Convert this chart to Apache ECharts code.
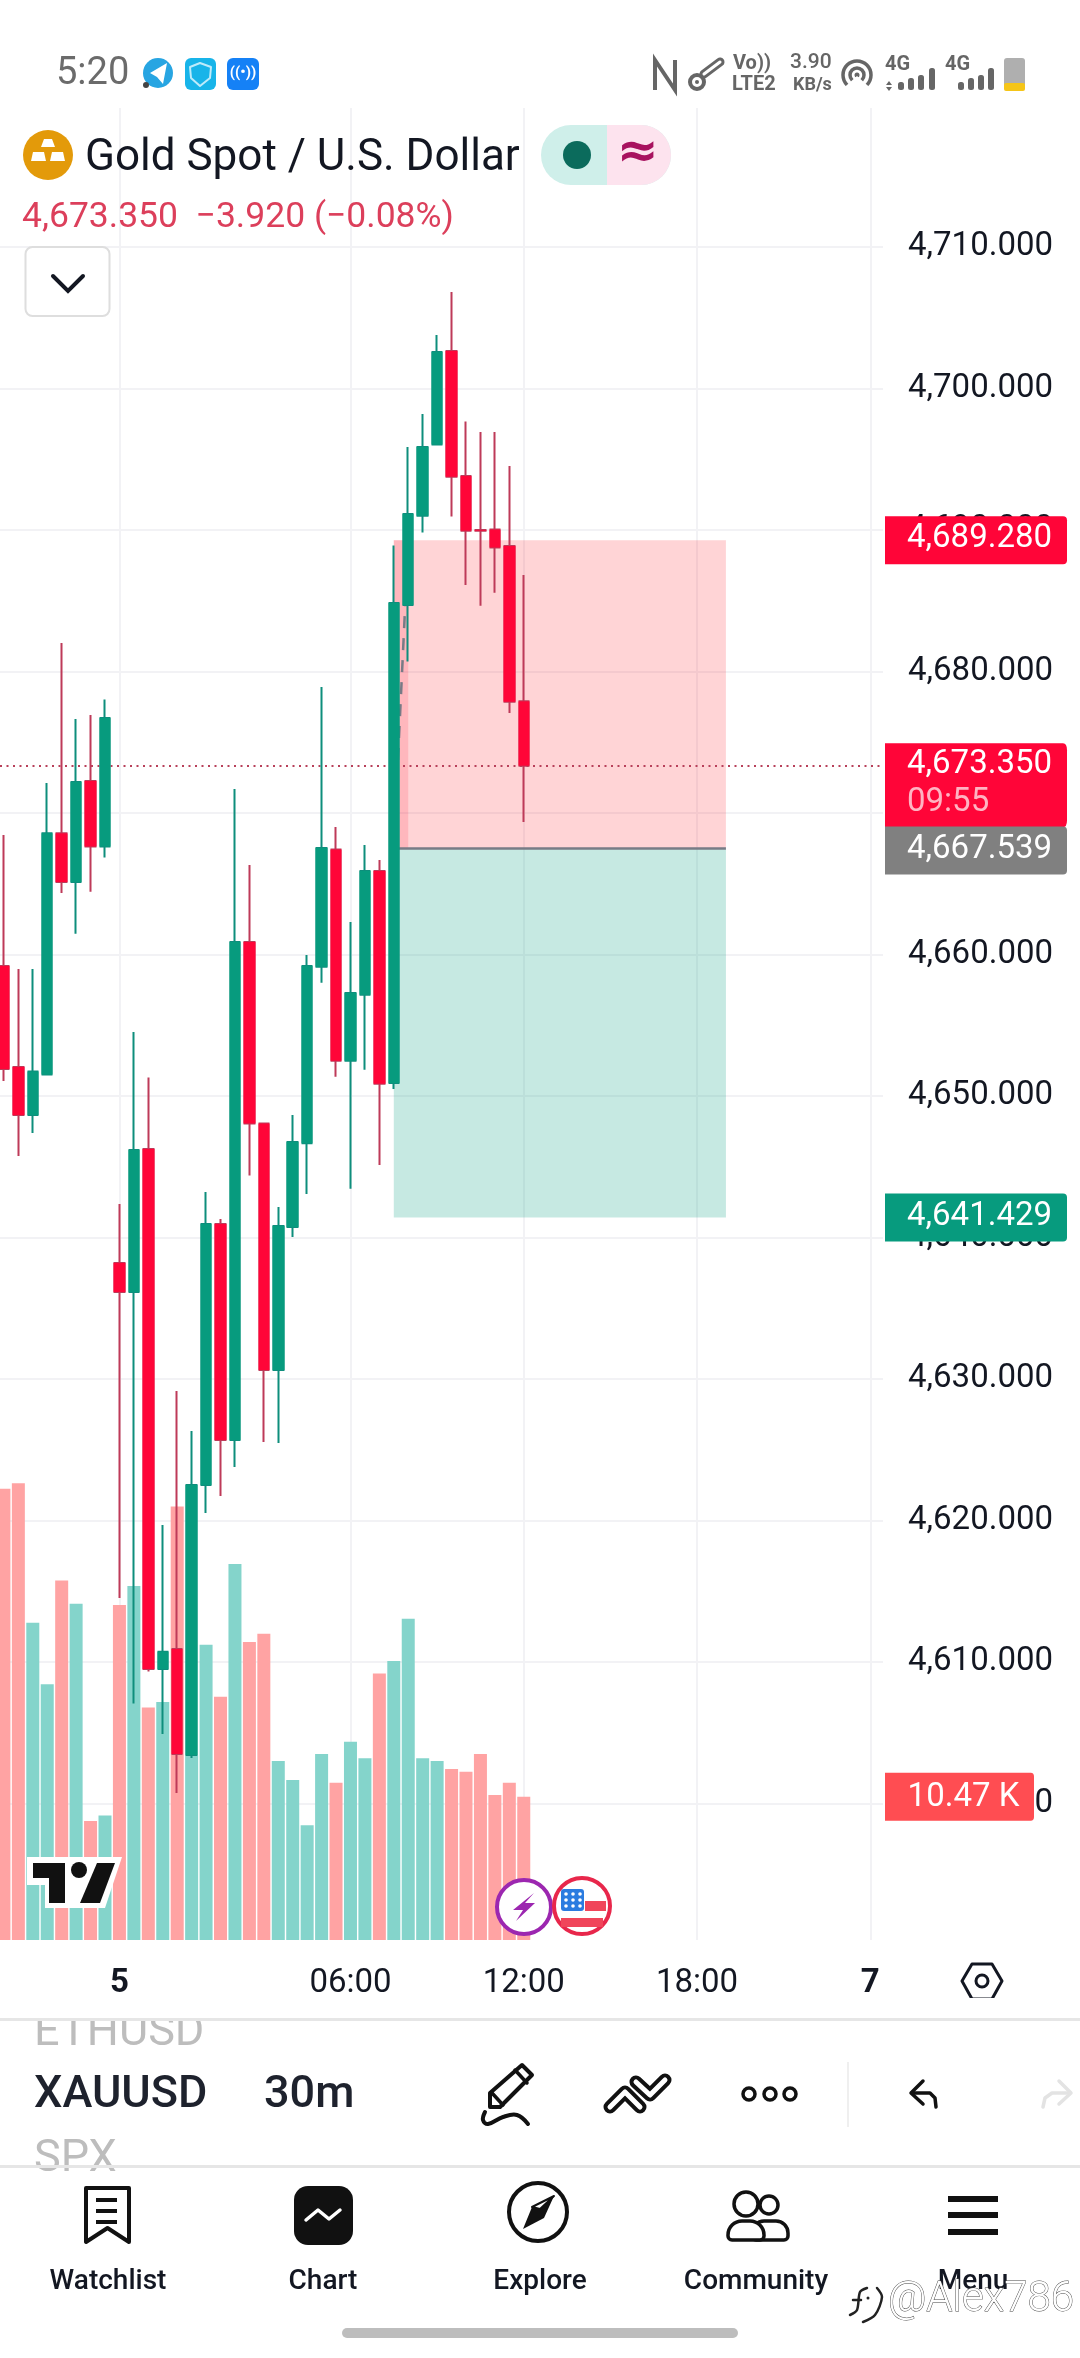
<!DOCTYPE html>
<html><head><meta charset="utf-8"><title>XAUUSD 30m</title>
<style>html,body{margin:0;padding:0;background:#fff}#c{width:1080px;height:2358px}</style>
<script src="https://cdn.jsdelivr.net/npm/echarts@6/dist/echarts.min.js"></script>
</head><body><div id="c"></div>
<script>
const open  = [4659.19,4652.06,4648.66,4651.52,4668.57,4665.13,4672.27,4667.64,4638.21,4636.16,4646.26,4609.51,4610.93,4603.44,4622.52,4640.96,4625.70,4660.89,4648.06,4630.64,4640.75,4646.66,4659.15,4667.43,4652.49,4657.17,4665.91,4650.93,4684.71,4691.02,4696.05,4702.66,4693.82,4690.01,4690.04,4688.88,4677.90];
const close = [4651.92,4648.66,4651.74,4668.57,4665.13,4672.20,4667.64,4676.72,4636.16,4646.19,4609.51,4610.74,4603.51,4622.52,4640.96,4625.70,4660.89,4648.06,4630.64,4640.82,4646.76,4659.19,4667.53,4652.49,4657.29,4665.91,4650.88,4684.85,4691.14,4695.87,4702.59,4693.77,4689.96,4689.96,4688.77,4677.87,4673.35];
const low   = [4651.07,4645.77,4647.39,4651.52,4664.35,4661.48,4664.45,4666.86,4614.53,4607.07,4609.34,4604.92,4600.75,4603.22,4620.54,4621.74,4623.79,4644.38,4625.55,4625.48,4640.04,4643.08,4658.01,4651.36,4643.46,4651.87,4645.13,4650.50,4680.71,4689.83,4696.05,4690.96,4686.12,4684.66,4685.58,4677.07,4669.37];
const high  = [4668.45,4658.98,4658.98,4672.13,4682.02,4676.65,4676.93,4678.03,4642.37,4654.53,4651.31,4619.69,4629.16,4626.33,4643.22,4641.31,4671.70,4666.33,4648.06,4642.16,4648.66,4659.97,4678.91,4669.02,4662.30,4667.75,4666.69,4688.91,4695.87,4698.20,4703.79,4706.83,4697.67,4696.93,4696.93,4694.53,4686.83];
const volumeK = [33.0,33.4,23.2,18.7,26.3,24.6,8.7,9.1,24.5,25.9,17.0,17.4,31.7,13.5,21.6,17.8,27.5,21.8,22.4,13.1,11.7,8.4,13.6,11.5,14.5,13.3,19.5,20.4,23.5,13.3,13.1,12.5,12.3,13.6,10.6,11.5,10.47];
const slotCount = 61;
const categories = Array.from({length:slotCount},(_,i)=>String(i));
const tickLabels = {8:'5',24:'06:00',36:'12:00',48:'18:00',60:'7'};
const boldTicks = ['5','7'];
const priceMin = 4590, priceMax = 4720, priceStep = 10;
const volMax = 134;
const targetPrice = 4689.28, entryPrice = 4667.539, stopPrice = 4641.429, lastPrice = 4673.35;
const entryIndex = 27, pathEndIndex = 28, zoneEndIndex = 50;
const countdown = '09:55';
const lastVolumeLabel = '10.47 K';

const GREEN='#079B7E', RED='#FF0538', WICK_G='#0E8E7C', WICK_R='#BE3A59';
const fmt = v => v.toLocaleString('en-US',{minimumFractionDigits:3,maximumFractionDigits:3});
const up = i => close[i] >= open[i];
const ink='#131722';

// --- UI helpers ---
const Z=100;
const T=(text,x,y,size,fill,o={})=>({type:'text',z:o.z||Z,x,y,style:{text,fill,font:`${o.weight||400} ${size}px ${o.family||'Roboto'}`,textAlign:o.align||'left',textVerticalAlign:'middle',stroke:o.stroke,lineWidth:o.lw||0}});
const R=(x,y,w,h,fill,o={})=>({type:'rect',z:o.z||Z,shape:{x,y,width:w,height:h,r:o.r||0},style:{fill,stroke:o.stroke,lineWidth:o.lw||0}});
const C=(cx,cy,r,fill,o={})=>({type:'circle',z:o.z||Z,shape:{cx,cy,r},style:{fill,stroke:o.stroke,lineWidth:o.lw||0}});
const PG=(points,fill,o={})=>({type:'polygon',z:o.z||Z,shape:{points},style:{fill,stroke:o.stroke,lineWidth:o.lw||0,lineJoin:'round'}});
const PL=(points,stroke,lw,o={})=>({type:'polyline',z:o.z||Z,shape:{points,smooth:o.smooth||0},style:{fill:'none',stroke,lineWidth:lw,lineJoin:o.join||'round',lineCap:o.cap||'round'}});
const bars=(list)=>list.map(b=>R(b[0]-3,90-b[1],6,b[1],'#666',{r:2.5}));
const chevL=[[610,2107],[625,2092],[640,2107]], chevR=[[636,2082],[650,2095],[665,2080]];

const ui=[
 // status bar
 T('5:20',56,74,38,'#6b6b6b'),
 C(158,73,15,'#27A5E2'),PG([[150,73],[167,63],[163,84],[157,77]],'#fff'),C(146,85,3,'#444'),
 R(185,58,31,32,'#18B4E9',{r:6}),PG([[200,63],[211,67],[210,78],[200,86],[191,78],[190,67]],'none',{stroke:'#BEEBFA',lw:2}),
 R(227,58,32,32,'#1581F6',{r:6}),T('((•))',243,73,15,'#fff',{align:'center',weight:700}),
 PL([[655,90],[655,60],[675,90],[675,60]],'#666',4,{join:'miter',cap:'butt'}),
 C(697,82,7,'none',{stroke:'#666',lw:4}),
 PL([[704,74],[720,62]],'#666',9,{join:'miter'}),PL([[704,74],[720,62]],'#fff',3),C(697,82,2,'#666'),
 T('Vo))',733,64,20,'#666',{weight:700}),T('LTE2',732,85,20,'#666',{weight:700}),
 T('3.90',790,63,21,'#666',{weight:500}),T('KB/s',793,85,18,'#666',{weight:700}),
 C(857,75,14,'none',{stroke:'#666',lw:3.5}),C(857,75,7,'none',{stroke:'#666',lw:3.5}),C(857,75,2.5,'#666'),PG([[857,76],[876,93],[838,93]],'#fff'),
 T('4G',885,65,20,'#666',{weight:700}),T('4G',945,65,20,'#666',{weight:700}),
 PG([[889,81],[892,85],[886,85]],'#666'),PG([[889,91],[892,87],[886,87]],'#666'),
 ...bars([[901,8],[911,12],[921,15],[932,22]]),
 ...bars([[961,8],[971,12],[981,15],[991,22]]),
 R(1004,58,21,32,'#AFAFAF',{r:3}),R(1004,83,21,8,'#F5C518',{r:2}),
 // header
 C(48,155,25,'#E39A0A'),PG([[44,139],[52,139],[55,147],[41,147]],'#fff'),PG([[33,152],[44,152],[46,161],[31,161]],'#fff'),PG([[52,152],[63,152],[65,161],[50,161]],'#fff'),
 T('Gold Spot / U.S. Dollar',85,159,44,'#131722'),
 R(541,125,130,60,'#CFEFEA',{r:30}),R(607,125,64,60,'#FDE3EE',{r:[0,30,30,0]}),
 C(577,155,14,'#0B6B5C'),T('≈',638,154,50,'#A8125F',{align:'center',weight:700,family:'DejaVu Sans'}),
 T('4,673.350  −3.920 (−0.08%)',22,218,35.5,'#DC3F5B'),
 R(25.5,247,84,69,'#fff',{r:7,stroke:'#DEDEDE',lw:2}),PL([[53,276],[68,291],[83,276]],'#131722',4,{join:'miter'}),
 // TradingView logo
 PG([[27,1857],[122,1857],[105,1908],[45,1908],[45,1885],[27,1885]],'#fff'),
 PG([[33,1863],[65,1863],[65,1903],[49,1903],[49,1878],[33,1878]],'#111'),
 C(79,1870,8,'#111'),
 PG([[97,1863],[115,1863],[100,1903],[80,1903]],'#111'),
 // event icons
 C(524,1907,27,'#fff',{stroke:'#9C27B0',lw:4}),PG([[534,1893],[513,1910],[523,1910],[516,1921],[535,1903],[525,1903]],'#9C27B0'),
 C(582,1906,28,'#fff',{stroke:'#E8274B',lw:4}),R(561,1889,23,22,'#2B7CE0',{r:3}),
 ...[566,573,580].flatMap(x=>[1894,1900,1906].map(y=>C(x,y,1.8,'#fff'))),
 R(585,1901,21,10,'#F0455A'),R(561,1918,42,9,'#F0455A'),
 // x axis settings icon
 PG([[962,1981],[972,1964],[992,1964],[1002,1981],[992,1999],[972,1999]],'none',{stroke:'#131722',lw:3}),C(982,1981,6,'none',{stroke:'#131722',lw:3}),
 // toolbar
 T('ETHUSD',34,2034,45,'#BDBDBD'),
 R(0,1998,1080,20,'#fff'),
 R(0,2018,1080,3,'#E6E6E6'),
 T('XAUUSD',34,2096,45,'#1E222D',{weight:500}),T('30m',264,2096,45,'#1E222D',{weight:500}),
 PG([[490,2093],[522,2065],[532,2075],[500,2107],[490,2107]],'none',{stroke:'#111',lw:4}),
 PL([[515,2070],[527,2083]],'#111',3.5),PL([[492,2093],[503,2105]],'#111',3.5),
 PL([[485,2112],[483,2120],[488,2124],[503,2117],[517,2115],[528,2124]],'#111',4,{smooth:0.4}),
 PL(chevL,'#111',13),PL(chevL,'#fff',5),PL(chevR,'#111',13),PL(chevR,'#fff',5),
 C(749,2094,6,'none',{stroke:'#111',lw:3.5}),C(770,2094,6,'none',{stroke:'#111',lw:3.5}),C(790,2094,6,'none',{stroke:'#111',lw:3.5}),
 R(847,2062,2,65,'#EFEFEF'),
 PL([[923,2081],[911,2093],[923,2104]],'#111',3.5),PL([[912,2093],[930,2093],[935,2098],[936,2107]],'#111',3.5),
 PL([[1059,2081],[1071,2093],[1059,2104]],'#E3E3E3',3.5),PL([[1070,2093],[1052,2093],[1045,2098],[1043,2107]],'#E3E3E3',3.5),
 T('SPX',34,2160,45,'#BDBDBD'),
 R(0,2166,1080,190,'#fff',{z:99}),
 R(0,2165,1080,3,'#E6E6E6'),
 // bottom nav
 PG([[86,2188],[129,2188],[129,2242],[107.5,2228],[86,2242]],'none',{stroke:'#111',lw:4}),
 R(96,2198,21,4,'#111'),R(96,2209,21,4,'#111'),R(96,2220,21,4,'#111'),
 R(294,2186,59,59,'#111',{r:14}),PL([[306,2220],[318,2210],[329,2219],[340,2210]],'#fff',3.5),
 C(538,2212,29,'none',{stroke:'#111',lw:4}),PG([[554,2196],[544,2218],[523,2229],[532,2207]],'#111'),PG([[554,2196],[540,2209],[532,2207]],'#fff',{stroke:'#111',lw:2}),
 C(746,2204,12,'none',{stroke:'#111',lw:3.5}),C(769,2205,9,'none',{stroke:'#111',lw:3.5}),
 R(752,2221,36,19,'#fff',{r:[12,12,4,4],stroke:'#111',lw:3.5}),R(728,2221,36,19,'#fff',{r:[14,14,4,4],stroke:'#111',lw:3.5}),
 R(948,2196,50,6,'#111'),R(948,2212,50,6,'#111'),R(948,2229,50,6,'#111'),
 T('Watchlist',108,2282,28,'#131722',{align:'center',weight:500}),
 T('Chart',323,2282,28,'#131722',{align:'center',weight:500}),
 T('Explore',540,2282,28,'#131722',{align:'center',weight:500}),
 T('Community',756,2282,28,'#131722',{align:'center',weight:500}),
 T('Menu',973,2282,28,'#131722',{align:'center',weight:500}),
 R(342,2328,396,10,'#BDBDBD',{r:5}),
 // watermark
 PL([[853,2300],[861,2300]],'#222',2.5,{z:101}),
 PL([[867,2288],[860,2292],[857,2310],[850,2315]],'#222',2.5,{z:101,smooth:0.3}),
 PL([[877,2288],[882,2297],[875,2315],[863,2322]],'#222',2.5,{z:101,smooth:0.3}),
 C(868,2298,1.5,'#222',{z:101}),
 T('@Alex786',888,2300,42,'#fff',{stroke:'#444',lw:0.9,weight:300,z:101})
];

// --- chart ---
const GT=105.6, GB=1945.1, VT=108, VB=1940;
const tagPath='path://M0 0H178Q182 0 182 4V44Q182 48 178 48H0Z';
const tagLabel=(txt,off)=>({show:true,position:'inside',offset:off||[4,-2],formatter:txt,rich:{a:{fontFamily:'Roboto',fontSize:33,color:'#fff',width:146,align:'left',lineHeight:38},b:{fontFamily:'Roboto',fontSize:33,color:'#FFB3C2',width:146,align:'left',lineHeight:38}}});
const yHidden=(i)=>({type:'value',gridIndex:i,min:priceMin,max:priceMax,interval:priceStep,show:false,splitLine:{show:false}});
const gridBase={outerBoundsMode:'none',containLabel:false};

const option={
 animation:false,backgroundColor:'#fff',
 grid:[
  {...gridBase,left:0,width:883,top:GT,height:GB-GT},
  {...gridBase,left:-3.3,width:880.84,top:GT,height:GB-GT},
  {...gridBase,left:-3.3,width:880.84,top:VT,height:VB-VT},
  {...gridBase,left:885,width:182,top:GT,height:GB-GT},
  {...gridBase,left:885,width:149,top:VT,height:VB-VT}
 ],
 xAxis:[
  {type:'value',gridIndex:0,min:0,max:1,show:false,splitLine:{show:false}},
  {type:'category',gridIndex:1,data:categories,show:false,splitLine:{show:false}},
  {type:'category',gridIndex:2,data:categories,axisLine:{show:false},axisTick:{show:false},
   splitLine:{show:true,alignWithLabel:true,interval:(i)=>i in tickLabels,lineStyle:{color:'#F2F2F5',width:2}},
   axisLabel:{interval:(i)=>i in tickLabels,margin:27,hideOverlap:false,showMaxLabel:true,
     formatter:(v)=>{const t=tickLabels[v];return boldTicks.includes(t)?`{b|${t}}`:`{n|${t}}`;},
     rich:{n:{fontFamily:'Roboto',fontSize:33,color:ink},b:{fontFamily:'Roboto',fontSize:33,fontWeight:700,color:ink}}}},
  {type:'category',gridIndex:3,data:['tag'],show:false},
  {type:'category',gridIndex:4,data:['tag'],show:false}
 ],
 yAxis:[
  {type:'value',gridIndex:0,position:'right',min:priceMin,max:priceMax,interval:priceStep,
   axisLine:{show:false},axisTick:{show:false},
   splitLine:{show:true,showMinLine:false,showMaxLine:false,lineStyle:{color:'#F2F2F5',width:2}},
   axisLabel:{showMinLabel:false,showMaxLabel:false,margin:25,color:ink,fontFamily:'Roboto',fontSize:33,padding:[0,0,8,0],formatter:fmt}},
  yHidden(1),
  {type:'value',gridIndex:2,min:0,max:volMax,show:false,splitLine:{show:false}},
  yHidden(3),
  {type:'value',gridIndex:4,min:0,max:volMax,show:false,splitLine:{show:false}}
 ],
 series:[
  {name:'Last price',type:'line',xAxisIndex:0,yAxisIndex:0,data:[],z:1,silent:true,
   markLine:{silent:true,symbol:'none',z:1,label:{show:false},animation:false,
     lineStyle:{color:'#B8405A',type:[2,4.5],width:2},data:[{yAxis:lastPrice}]}},
  {name:'Position',type:'line',xAxisIndex:1,yAxisIndex:1,data:[],z:1,silent:true,
   markArea:{silent:true,z:1,animation:false,data:[
     [{coord:[entryIndex,targetPrice],itemStyle:{color:'rgba(255,40,50,0.2)'}},{coord:[zoneEndIndex,entryPrice]}],
     [{coord:[entryIndex,entryPrice],itemStyle:{color:'rgba(8,160,130,0.23)'}},{coord:[zoneEndIndex,stopPrice]}],
     [{coord:[entryIndex,targetPrice],itemStyle:{color:'rgba(255,30,60,0.16)'}},{coord:[pathEndIndex,entryPrice]}]
   ]},
   markLine:{silent:true,symbol:'none',z:1,animation:false,label:{show:false},data:[
     [{coord:[entryIndex,entryPrice],lineStyle:{color:'#787B86',width:2.5,type:'solid'}},{coord:[zoneEndIndex,entryPrice]}],
     [{coord:[entryIndex,entryPrice],lineStyle:{color:'#787B86',width:2.5,type:[12,10]}},{coord:[pathEndIndex,targetPrice]}]
   ]}},
  {name:'Volume',type:'bar',xAxisIndex:2,yAxisIndex:2,z:2,barWidth:13,
   data:volumeK.map((v,i)=>({value:v,itemStyle:{color:up(i)?'#84D4CB':'#FFA3A3'}}))},
  {name:'Wicks',type:'candlestick',xAxisIndex:1,yAxisIndex:1,z:3,barWidth:10,
   itemStyle:{color:WICK_G,color0:WICK_R,borderColor:WICK_G,borderColor0:WICK_R,borderWidth:2},
   data:open.map((o,i)=>[o,close[i],low[i],high[i]])},
  {name:'XAUUSD',type:'candlestick',xAxisIndex:1,yAxisIndex:1,z:4,barWidth:12,
   itemStyle:{color:GREEN,color0:RED,borderColor:GREEN,borderColor0:RED,borderWidth:0},
   data:open.map((o,i)=>[o,close[i],Math.min(o,close[i]),Math.max(o,close[i])])},
  {name:'Price tags',type:'scatter',xAxisIndex:3,yAxisIndex:3,z:10,silent:true,data:[
    {value:['tag',targetPrice],symbol:tagPath,symbolSize:[182,48],itemStyle:{color:RED,opacity:1},label:tagLabel(`{a|${fmt(targetPrice)}}`)},
    {value:['tag',lastPrice],symbol:tagPath,symbolSize:[182,84],symbolOffset:[0,19.5],itemStyle:{color:RED,opacity:1},label:tagLabel(`{a|${fmt(lastPrice)}}\n{b|${countdown}}`,[4,-1])},
    {value:['tag',entryPrice],symbol:tagPath,symbolSize:[182,48],symbolOffset:[0,2.5],itemStyle:{color:'#808080',opacity:1},label:tagLabel(`{a|${fmt(entryPrice)}}`,[4,-1])},
    {value:['tag',stopPrice],symbol:tagPath,symbolSize:[182,48],itemStyle:{color:GREEN,opacity:1},label:tagLabel(`{a|${fmt(stopPrice)}}`,[4,-1])}
  ]},
  {name:'Volume tag',type:'scatter',xAxisIndex:4,yAxisIndex:4,z:10,silent:true,data:[
    {value:['tag',volumeK[volumeK.length-1]],symbol:tagPath,symbolSize:[149,48],itemStyle:{color:'#FF4D52',opacity:1},
     label:{show:true,position:'inside',offset:[4,1],formatter:lastVolumeLabel,color:'#fff',fontFamily:'Roboto',fontSize:33}}
  ]}
 ],
 graphic:{elements:ui}
};
const chart=echarts.init(document.getElementById('c'));
chart.setOption(option);
</script></body></html>
